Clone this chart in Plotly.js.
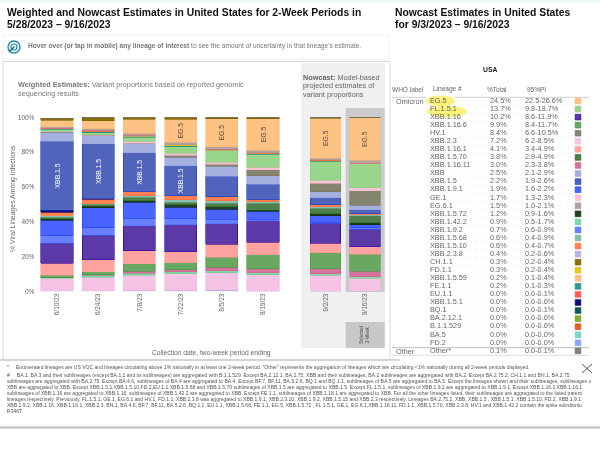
<!DOCTYPE html>
<html><head><meta charset="utf-8">
<script src="https://cdn.plot.ly/plotly-3.0.1.min.js"></script>
<style>html,body{margin:0;padding:0;background:#fff}#c{width:600px;height:470px;filter:blur(0.3px)}</style>
</head><body><div id="c"></div>
<script>
// ---------- data ----------
const weightedDates = ['6/10/23','6/24/23','7/8/23','7/22/23','8/5/23','8/19/23'];
const nowcastDates = ['9/2/23','9/16/23'];
const lineages = ['EG.5','FL.1.5.1','XBB.1.16','XBB.1.16.6','HV.1','XBB.2.3','XBB.1.16.1','XBB.1.5.70','XBB.1.16.11','XBB','XBB.1.5','XBB.1.9.1','GE.1','EG.6.1','XBB.1.5.72','XBB.1.42.2','XBB.1.9.2','XBB.1.5.68','XBB.1.5.10','XBB.2.3.8','CH.1.1','FD.1.1','XBB.1.5.59','FE.1.1','EU.1.1','XBB.1.5.1','BQ.1','BA.2.12.1','B.1.1.529','BA.5','FD.2','Other*'];
const pctTotal = ['24.5%','13.7%','10.2%','9.9%','8.4%','7.2%','4.1%','3.8%','3.0%','2.5%','2.2%','1.9%','1.7%','1.5%','1.2%','0.9%','0.7%','0.6%','0.6%','0.4%','0.3%','0.3%','0.2%','0.2%','0.0%','0.0%','0.0%','0.0%','0.0%','0.0%','0.0%','0.1%'];
const pi95 = ['22.5-26.6%','9.8-18.7%','8.6-11.9%','8.4-11.7%','6.6-10.5%','6.2-8.5%','3.4-4.9%','2.9-4.9%','2.3-3.8%','2.1-2.9%','1.9-2.6%','1.6-2.2%','1.3-2.3%','1.0-2.1%','0.9-1.6%','0.5-1.7%','0.6-0.9%','0.4-0.9%','0.4-0.7%','0.2-0.6%','0.2-0.4%','0.2-0.4%','0.1-0.4%','0.1-0.3%','0.0-0.1%','0.0-0.0%','0.0-0.1%','0.0-0.0%','0.0-0.0%','0.0-0.0%','0.0-0.0%','0.0-0.1%'];
const fills = ['#ffc285','#99d68c','#5b3aa8','#69a860','#85856f','#f7c3e5','#ffa3a0','#4f7f4a','#d6739a','#a6b0e0','#5064bc','#4a64ff','#fbc4d8','#b5a3a3','#263d1f','#7fd6a3','#6680ff','#8abfb0','#ff7f50','#bdb3e8','#8a7000','#e8c81a','#ffbf80','#2f9a90','#ff5a5a','#0a0a80','#0a5a5a','#80b030','#e06020','#80d6c6','#8ca6ff','#808080'];
const borders = ['#ffb870','#85cc78','#2800a8','#3c9a3c','#75755f','#f5b8e0','#ff9a96','#1f6b1f','#cc6690','#98a4dc','#1c3cc0','#1c40ff','#fbb8d0','#a89696','#0f2a0a','#70d098','#4a6cff','#78b5a5','#ff7040','#b0a6e4','#7a6200','#dcbc10','#ffb470','#1f8c84','#ff4a4a','#000070','#004a4a','#70a420','#d85010','#70ccbc','#7c9aff','#707070'];

const v_XBB_2_3_8   = [0.4,0.3,0.6,0.6,0.8,0,0,0.4];
const v_XBB_2_3     = [7,7.7,8.6,9.6,10,9.4,9.2,7.2];
const v_XBB_1_42_2  = [0.3,1.1,1.3,1,1,1.3,0.8,0.9];
const v_XBB_1_16_11 = [0.1,0.3,1,1.3,2.1,2.3,2.9,3];
const v_XBB_1_16_6  = [1.3,1.7,4.2,3.8,5.7,7.9,9.2,9.9];
const v_XBB_1_16_1  = [6.9,7.1,7.5,6.5,7.3,7.3,5.6,4.1];
const v_XBB_1_16    = [11.5,14,14.6,15.5,12,12.3,11.3,10.2];
const v_XBB_1_9_2   = [4.4,4.4,4.3,3.3,2.5,1,0.8,0.7];
const v_XBB_1_9_1   = [8.8,11.3,9,6.7,5.7,4.4,3.6,1.9];
const v_XBB_1_5_72  = [1.1,1,1,1.5,1.5,0.6,1.1,1.2];
const v_XBB_1_5_70  = [0.8,1.1,1.9,1.5,1.9,4.2,3.3,3.8];
const v_XBB_1_5_68  = [0.8,0.7,0.8,1.3,1.5,0.8,0.8,0.6];
const v_XBB_1_5_59  = [0.2,0,0,0,0,0,0,0.2];
const v_XBB_1_5_10  = [1.9,2.3,2.3,2.3,2.3,1.1,1.1,0.6];
const v_XBB_1_5_1   = [1.1,0.2,0,0,0,0,0,0];
const v_XBB_1_5     = [39.5,31.5,22.6,17.2,11.9,8.8,4.2,2.2];
const v_XBB         = [5.4,4.6,5.4,5,5.7,5,3.4,2.5];
const v_HV_1        = [0.2,0.4,0.1,1,1,3.4,4.8,8.4];
const v_GE_1        = [0.2,0.4,1.1,1.1,1.3,1.5,1.7,1.7];
const v_FL_1_5_1    = [1.1,1.1,2.3,4,6.5,7.5,10.9,13.7];
const v_FE_1_1      = [0.3,0.5,0.6,0.5,0.5,0.5,0.5,0.2];
const v_FD_2        = [0.1,0.2,0,0,0,0,0,0];
const v_FD_1_1      = [0.1,0.1,0.2,0.4,0.1,0,0.1,0.3];
const v_EU_1_1      = [0.1,0.6,0.2,0.2,0.2,0.2,0.2,0];
const v_EG_6_1      = [0.9,0.8,1.1,1.5,1.7,1.5,1.1,1.5];
const v_EG_5        = [3.8,4.6,8.2,13,16,18.3,22.9,24.5];
const v_CH_1_1      = [1.1,1.9,1.1,1.1,0.8,0.6,0.5,0.3];
const v_Other       = [0,0,0,0,0,0,0,0.1];

const stackOrder = [
 ['XBB.2.3.8',v_XBB_2_3_8],['XBB.2.3',v_XBB_2_3],['XBB.1.42.2',v_XBB_1_42_2],['XBB.1.16.11',v_XBB_1_16_11],
 ['XBB.1.16.6',v_XBB_1_16_6],['XBB.1.16.1',v_XBB_1_16_1],['XBB.1.16',v_XBB_1_16],['XBB.1.9.2',v_XBB_1_9_2],
 ['XBB.1.9.1',v_XBB_1_9_1],['XBB.1.5.72',v_XBB_1_5_72],['XBB.1.5.70',v_XBB_1_5_70],['XBB.1.5.68',v_XBB_1_5_68],
 ['XBB.1.5.59',v_XBB_1_5_59],['XBB.1.5.10',v_XBB_1_5_10],['XBB.1.5.1',v_XBB_1_5_1],['XBB.1.5',v_XBB_1_5],
 ['XBB',v_XBB],['HV.1',v_HV_1],['GE.1',v_GE_1],['FL.1.5.1',v_FL_1_5_1],['FE.1.1',v_FE_1_1],['FD.2',v_FD_2],
 ['FD.1.1',v_FD_1_1],['EU.1.1',v_EU_1_1],['EG.6.1',v_EG_6_1],['EG.5',v_EG_5],['CH.1.1',v_CH_1_1],['Other*',v_Other]
];
const barLabels = {
 'XBB.1.5':['XBB.1.5','XBB.1.5','XBB.1.5','XBB.1.5','','','',''],
 'EG.5':['','','','EG.5','EG.5','EG.5','EG.5','EG.5']
};
const yTicks = [0,20,40,60,80,100];
const yTickText = ['0%','20%','40%','60%','80%','100%'];
const FONT = '"Liberation Sans", Arial, sans-serif';

const footnotes = [
 '*     Enumerated lineages are US VOC and lineages circulating above 1% nationally in at least one 2-week period. "Other" represents the aggregation of lineages which are circulating <1% nationally during all 2-week periods displayed.',
 '#     BA.1, BA.3 and their sublineages (except BA.1.1 and its sublineages) are aggregated with B.1.1.529. Except BA.2.12.1, BA.2.75, XBB and their sublineages, BA.2 sublineages are aggregated with BA.2. Except BA.2.75.2, CH.1.1 and BN.1, BA.2.75',
 'sublineages are aggregated with BA.2.75. Except BA.4.6, sublineages of BA.4 are aggregated to BA.4. Except BF.7, BF.11, BA.5.2.6, BQ.1 and BQ.1.1, sublineages of BA.5 are aggregated to BA.5. Except the lineages shown and their sublineages, sublineages o',
 'XBB are aggregated to XBB. Except XBB.1.5.1,XBB.1.5.10,FD.2,EU.1.1,XBB.1.5.68 and XBB.1.5.70 sublineages of XBB.1.5 are aggregated to XBB.1.5. Except FL.1.5.1, sublineages of XBB.1.9.1 are aggregated to XBB.1.9.1. Except XBB.1.16.1,XBB.1.16.1',
 'sublineages of XBB.1.16 are aggregated to XBB.1.16, sublineages of XBB.1.42.2 are aggregated to XBB. Except FE.1.1, sublineages of XBB.1.18.1 are aggregated to XBB. For all the other lineages listed, their sublineages are aggregated to the listed parent',
 'lineages respectively. Previously, FL.1.5.1, GE.1, EG.6.1 and HV.1, FD.1.1, XBB.2.3.8 was aggregated to XBB.1.9.1, XBB.2.3.10, XBB.1.9.2, XBB.1.5.15 and XBB.2.3 respectively. Lineages BA.2.75.2, XBB, XBB.1.5 , XBB.1.5.1, XBB.1.5.10, FD.2, XBB.1.9.1',
 'XBB.1.9.2, XBB.1.16, XBB.1.16.1, XBB.2.3, BN.1, BA.4.6, BF.7, BF.11, BA.5.2.6 ,BQ.1.1, EU.1.1, XBB.1.5.68, FE.1.1, EG.5, XBB.1.5.72 , FL.1.5.1, GE.1, EG.6.1,XBB.1.16.11, FD.1.1, XBB.1.5.70, XBB.2.3.8, HV.1 and XBB.1.42.2 contain the spike substitutio',
 'R346T.'
];
const footY = [367,374.5,380.5,386.5,392.5,398.5,404.5,410.5];

// ---------- helpers (pixel -> paper) ----------
const W=600,H=470;
const px=x=>x/W, py=y=>1-y/H;
function rect(x0,y0,x1,y1,fill,line,lw){return {type:'rect',xref:'paper',yref:'paper',x0:px(x0),x1:px(x1),y0:py(y0),y1:py(y1),fillcolor:fill||'rgba(0,0,0,0)',line:{color:line||'rgba(0,0,0,0)',width:lw||0},layer:'below'};}
function hline(y,x0,x1,c,w){return {type:'line',xref:'paper',yref:'paper',x0:px(x0),x1:px(x1),y0:py(y),y1:py(y),line:{color:c,width:w||1},layer:'below'};}
function vline(x,y0,y1,c,w){return {type:'line',xref:'paper',yref:'paper',x0:px(x),x1:px(x),y0:py(y0),y1:py(y1),line:{color:c,width:w||1},layer:'below'};}
function circ(x0,y0,x1,y1,fill,line,lw){return Object.assign(rect(x0,y0,x1,y1,fill,line,lw),{type:'circle'});}
function txt(x,y,t,size,color,extra){return Object.assign({xref:'paper',yref:'paper',x:px(x),y:py(y),text:t,showarrow:false,xanchor:'left',yanchor:'middle',font:{family:FONT,size:size,color:color},borderpad:0,borderwidth:0},extra||{});}

// ---------- traces ----------
const traces=[];
stackOrder.forEach(([name,vals])=>{
  const i=lineages.indexOf(name);
  const lab=barLabels[name];
  const common={type:'bar',name:name,showlegend:false,marker:{color:fills[i],line:{color:borders[i],width:0.6}},cliponaxis:false,hoverinfo:'name+y'};
  const labelColor=name==='XBB.1.5'?'#ffffff':'#5a4a3a';
  const t1=Object.assign({},common,{x:weightedDates,y:vals.slice(0,6),xaxis:'x',yaxis:'y'});
  const t2=Object.assign({},common,{x:nowcastDates,y:vals.slice(6),xaxis:'x2',yaxis:'y'});
  if(lab){
    [t1,t2].forEach((t,k)=>{
      t.text=k===0?lab.slice(0,6):lab.slice(6);
      t.textposition='inside';t.insidetextanchor='middle';t.textangle=-90;t.constraintext='none';
      t.insidetextfont={family:FONT,size:6.8,color:labelColor};
    });
  }
  traces.push(t1,t2);
});
const rows=lineages.map((_,i)=>i);
const colLineage=Array(rows.length).fill(430);
const colPct=Array(rows.length).fill(490);
const colPi=Array(rows.length).fill(525);
const colSw=Array(rows.length).fill(578);
function col(xs,text){return {type:'scatter',mode:'text',x:xs,y:rows,text:text,textposition:'middle right',textfont:{family:FONT,size:7.3,color:'#666'},xaxis:'x3',yaxis:'y3',showlegend:false,hoverinfo:'skip'};}
traces.push(col(colLineage,lineages),col(colPct,pctTotal),col(colPi,pi95));
traces.push({type:'scatter',mode:'markers',x:colSw,y:rows,marker:{symbol:'square',size:5.6,color:fills,line:{color:borders,width:0.7}},xaxis:'x3',yaxis:'y3',showlegend:false,hoverinfo:'skip'});

// ---------- layout ----------
const shapes=[
 rect(0,0,600,2,'#eef6fa'),
 rect(3,35,389,59,'#fff','#f0f0f0',1),
 rect(3,61.5,390,360,'#fff','#d8d8d8',1),
 rect(301,63,385,348,'#f0f0f0'),
 rect(345.7,108,384.7,292,'#cbcbcb'),
 rect(345.7,322,384.7,348,'#c8c8c8'),
 hline(360,0,400,'#cccccc',1.5),
 hline(425,0,600,'#eeeeee',1),
 hline(427.5,0,600,'#bdbdbd',2),
];
for(let r=0;r<31;r++){const y=101+8.06*r+4.03; if(r<30) shapes.push(hline(y,427,589,'#f5f5f5',0.7));}
[427,477,488,523,568,589].forEach(x=>shapes.push(vline(x,97,347,'#f5f5f5',0.7)));
shapes.push(
 circ(426,95.5,455,106.5,'#fbf27c'),
 circ(427,106,467,117,'#fbf27c'),
 hline(97.3,392,426,'#cfcfcf',1),
 hline(97.3,455,589,'#cfcfcf',1),
 hline(347.7,392,589,'#bdbdbd',1),
 hline(355.3,392,589,'#dddddd',1),
 // hint icon
 circ(8,41,20,53,'rgba(0,0,0,0)','#1b8aa6',1.4),
 circ(11,44,17,50,'rgba(0,0,0,0)','#1b8aa6',1.2),
 {type:'line',xref:'paper',yref:'paper',x0:px(9),x1:px(14.5),y0:py(52),y1:py(46.5),line:{color:'#1b6f8a',width:1.4},layer:'below'},
 // close X
 {type:'line',xref:'paper',yref:'paper',x0:px(582),x1:px(592),y0:py(364),y1:py(373),line:{color:'#222',width:0.8}},
 {type:'line',xref:'paper',yref:'paper',x0:px(592),x1:px(582),y0:py(364),y1:py(373),line:{color:'#222',width:0.8}}
);

const annotations=[
 txt(7,12,'<b>Weighted and Nowcast Estimates in United States for 2-Week Periods in</b>',10.35,'#111'),
 txt(7,24.7,'<b>5/28/2023 – 9/16/2023</b>',10.35,'#111'),
 txt(395,12,'<b>Nowcast Estimates in United States</b>',10.35,'#111'),
 txt(395,24.7,'<b>for 9/3/2023 – 9/16/2023</b>',10.35,'#111'),
 txt(28,46,'<b>Hover over (or tap in mobile) any lineage of interest</b> to see the amount of uncertainty in that lineage\'s estimate.',6.6,'#777'),
 txt(18,85,'<b>Weighted Estimates:</b> Variant proportions based on reported genomic',7.3,'#777'),
 txt(18,93.7,'sequencing results',7.3,'#777'),
 txt(303,77.5,'<b>Nowcast:</b> Model-based',7.3,'#666'),
 txt(303,86,'projected estimates of',7.3,'#666'),
 txt(303,94.5,'variant proportions',7.3,'#666'),
 txt(13,199,'% Viral Lineages Among Infections',6.9,'#666',{textangle:-90,xanchor:'center'}),
 txt(211,352.5,'Collection date, two-week period ending',6.7,'#666',{xanchor:'center'}),
 txt(361,335,'Selected',4.6,'#444',{textangle:-90,xanchor:'center'}),
 txt(367,335,'2-Week',4.6,'#444',{textangle:-90,xanchor:'center'}),
 txt(490,69,'<b>USA</b>',6.8,'#222',{xanchor:'center'}),
 txt(392,89,'WHO label',6.5,'#666'),
 txt(433,89,'Lineage #',6.5,'#666'),
 txt(487,89,'%Total',6.5,'#666'),
 txt(527,89,'95%PI',6.5,'#666'),
 txt(396,101,'Omicron',7.3,'#666'),
 txt(396,351,'Other',7.3,'#666'),
];
footnotes.forEach((t,i)=>annotations.push(txt(i<2?7:6.5,footY[i],t.replace('<','&lt;'),5.05,'#555')));

const layout={
 width:W,height:H,margin:{l:0,r:0,t:0,b:0},paper_bgcolor:'#fff',plot_bgcolor:'rgba(0,0,0,0)',
 barmode:'stack',bargap:0.22,showlegend:false,
 font:{family:FONT},
 xaxis:{domain:[px(36.4),px(283.6)],anchor:'y',type:'category',categoryarray:weightedDates,tickangle:-90,ticks:'',ticklen:0,tickfont:{size:6.5,color:'#666'},showgrid:false,zeroline:false,showline:false,automargin:false},
 xaxis2:{domain:[px(305.75),px(384.75)],anchor:'y',type:'category',categoryarray:nowcastDates,tickangle:-90,ticks:'',ticklen:0,tickfont:{size:6.5,color:'#666'},showgrid:false,zeroline:false,showline:false,automargin:false},
 yaxis:{domain:[py(291.3),py(117.3)],range:[0,100],tickvals:yTicks,ticktext:yTickText,ticks:'',tickfont:{size:6.5,color:'#666'},showgrid:false,zeroline:false,showline:false,automargin:false,anchor:'x',ticklabelstandoff:1},
 xaxis3:{domain:[0,1],range:[0,W],visible:false,anchor:'y3'},
 yaxis3:{domain:[py(101+8.06*31.5),py(101-8.06*0.5)],range:[31.5,-0.5],visible:false,anchor:'x3'},
 shapes:shapes,annotations:annotations
};
Plotly.newPlot('c',traces,layout,{displayModeBar:false,staticPlot:true});
</script></body></html>
